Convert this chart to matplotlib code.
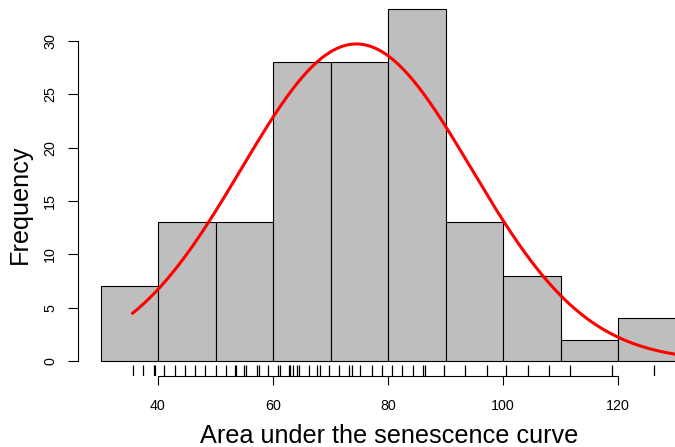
import numpy as np
import matplotlib
matplotlib.use("Agg")
import matplotlib.pyplot as plt
import matplotlib.transforms as mtransforms

plt.rcParams['font.family'] = ['Liberation Sans', 'DejaVu Sans']

# Histogram data
bin_edges = [30, 40, 50, 60, 70, 80, 90, 100, 110, 120, 130]
counts = [7, 13, 13, 28, 28, 33, 13, 8, 2, 4]

# Rug values (observations)
rug_values = [35.6, 37.4, 39.3, 39.5, 41.0, 43.0, 44.7, 46.4, 48.2, 50.0, 51.9,
              53.4, 53.6, 55.0, 55.3, 57.3, 57.5, 59.2, 60.8, 61.2, 62.7, 63.0,
              63.4, 64.2, 64.5, 66.3, 67.7, 68.1, 69.8, 71.5, 73.3, 73.8, 75.1,
              77.3, 78.9, 80.7, 82.4, 84.4, 86.1, 86.4, 89.7, 93.4, 97.2, 100.6,
              104.4, 108.0, 111.7, 118.9, 126.3]

# Fitted normal curve parameters
fit_mean = 74.5
fit_sd = 20.0
n_obs = sum(counts)
bin_width = 10
curve_from, curve_to = 35.6, 134

xticks = [40, 60, 80, 100, 120]
yticks = [0, 5, 10, 15, 20, 25, 30]

W, H = 675, 447
fig = plt.figure(figsize=(W / 100, H / 100), dpi=100)

# axes geometry in pixels (top-left origin)
left_px, right_px, bottom_px, top_px = 77.5, 698.5, 376.0, -5.0
ax = fig.add_axes([left_px / W, (H - bottom_px) / H,
                   (right_px - left_px) / W, (bottom_px - top_px) / H])
ax.set_xlim(26, 134)
ax.set_ylim(-1.406, 34.31)

lefts = bin_edges[:-1]
widths = np.diff(bin_edges)
ax.bar(lefts, counts, width=widths, align='edge', color='#BEBEBE',
       edgecolor='black', linewidth=0.8, zorder=2)

xs = np.linspace(curve_from, curve_to, 300)
ys = n_obs * bin_width * np.exp(-0.5 * ((xs - fit_mean) / fit_sd) ** 2) / (fit_sd * np.sqrt(2 * np.pi))
ax.plot(xs, ys, color='red', linewidth=2.2, zorder=3)

trans = mtransforms.blended_transform_factory(ax.transData, ax.transAxes)
ax.vlines(rug_values, 0, 0.03, transform=trans, color='black', linewidth=0.9, zorder=3)

for s in ['top', 'right']:
    ax.spines[s].set_visible(False)
ax.spines['left'].set_bounds(0, 30)
ax.spines['bottom'].set_bounds(40, 120)
for s in ['left', 'bottom']:
    ax.spines[s].set_linewidth(0.8)

ax.set_xticks(xticks)
ax.set_yticks(yticks)
ax.set_xticklabels([str(v) for v in xticks])
ax.set_yticklabels([str(v) for v in yticks])
ax.tick_params(axis='x', length=6.3, width=0.8, pad=10, labelsize=10.3)
ax.tick_params(axis='y', length=7, width=0.8, pad=7.5, labelsize=10.3, labelrotation=90)
for lab in ax.get_yticklabels():
    lab.set_va('center')

fig.text(389 / W, 1 - 443.3 / H, 'Area under the senescence curve', ha='center',
         va='baseline', fontsize=18.2)
fig.text(26.5 / W, 1 - 204 / H, 'Frequency', ha='center', va='baseline',
         rotation=90, rotation_mode='anchor', fontsize=18.2)

fig.savefig('out.png', dpi=100)
